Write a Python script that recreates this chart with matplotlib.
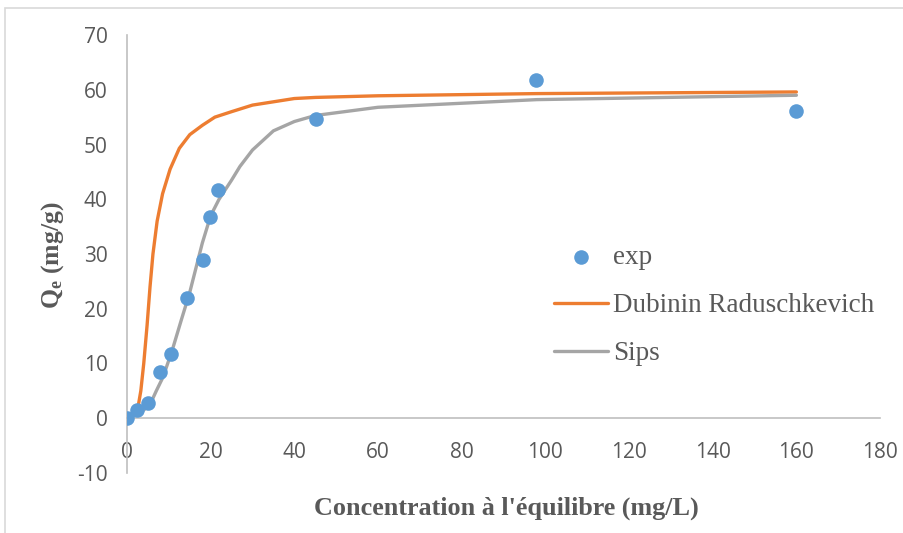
import matplotlib
matplotlib.use("Agg")
import matplotlib.pyplot as plt
from matplotlib.patches import Rectangle

# exp points
exp_x = [0, 2.4, 5.0, 7.9, 10.5, 14.3, 18.2, 19.8, 21.7, 45.2, 97.8, 160]
exp_y = [0, 1.5, 2.8, 8.4, 11.7, 21.9, 28.9, 36.7, 41.7, 54.7, 61.8, 56.1]

# Dubinin Raduschkevich model
dr_x = [2.4, 3.3, 4.0, 4.8, 5.5, 6.2, 7.2, 8.5, 10.3, 12.5, 15, 18, 21, 25, 30, 40, 45, 60, 98, 160]
dr_y = [1.0, 5.0, 10.0, 17.0, 24.0, 30.0, 36.0, 41.0, 45.5, 49.3, 51.8, 53.5, 55.0, 56.0, 57.2, 58.4, 58.6, 58.9, 59.3, 59.6]

# Sips model
sips_x = [0.3, 2, 4, 5.5, 7, 8.6, 10.8, 13, 15, 18, 20, 22, 25, 27, 30, 35, 40, 45, 60, 98, 160]
sips_y = [0.0, 0.5, 1.5, 2.5, 5.0, 7.5, 12.4, 18.0, 23.0, 32.0, 37.0, 40.0, 43.5, 46.0, 49.0, 52.5, 54.2, 55.3, 56.8, 58.2, 59.0]

xticks = list(range(0, 181, 20))
yticks = list(range(-10, 71, 10))

plt.rcParams["mathtext.fontset"] = "custom"
plt.rcParams["mathtext.rm"] = "Liberation Serif:bold"
plt.rcParams["mathtext.it"] = "Liberation Serif:bold"
plt.rcParams["axes.unicode_minus"] = False

grey_txt = "#595959"

fig = plt.figure(figsize=(9.04, 5.33), dpi=100)
ax = fig.add_axes([0.1405, 0.1126, 0.833, 0.8217])

ax.plot(dr_x, dr_y, color="#ED7D31", lw=2.4, label="Dubinin Raduschkevich", zorder=2, solid_capstyle="round")
ax.plot(sips_x, sips_y, color="#A5A5A5", lw=2.4, label="Sips", zorder=2, solid_capstyle="round")
ax.scatter(exp_x, exp_y, s=110, color="#5B9BD5", label="exp", zorder=3, linewidths=0)

ax.set_xlim(0, 180)
ax.set_ylim(-10, 70)
ax.set_xticks(xticks)
ax.set_yticks(yticks)

for s in ["top", "right"]:
    ax.spines[s].set_visible(False)
ax.spines["bottom"].set_position(("data", 0))
ax.spines["bottom"].set_color("#BFBFBF")
ax.spines["left"].set_color("#BFBFBF")
ax.spines["bottom"].set_linewidth(1.2)
ax.spines["left"].set_linewidth(1.2)
ax.tick_params(length=0, labelsize=15, labelcolor=grey_txt)
ax.tick_params(axis="x", pad=17)
ax.tick_params(axis="y", pad=14)
for lab in ax.get_xticklabels() + ax.get_yticklabels():
    lab.set_family("Open Sans")

fig.text(0.0586, 0.5216, "Q$_e$ (mg/g)", rotation=90, ha="center", va="center",
         family="Liberation Serif", fontsize=18.5, fontweight="bold", color=grey_txt)
fig.text(0.5597, 0.047, "Concentration à l'équilibre (mg/L)", ha="center", va="center",
         family="Liberation Serif", fontsize=18.8, fontweight="bold", color=grey_txt)

h, l = ax.get_legend_handles_labels()
order = [2, 0, 1]
ax.legend([h[i] for i in order], [l[i] for i in order], loc="upper left",
          bbox_to_anchor=(0.5854, 0.5855), bbox_transform=fig.transFigure, frameon=False,
          prop={"family": "Liberation Serif", "size": 19.5}, labelcolor=grey_txt,
          handlelength=2.0, handletextpad=0.2, labelspacing=0.85, borderpad=0.4)

fig.patches.append(Rectangle((0.006, -0.1), 1.1, 1.085, transform=fig.transFigure,
                             fill=False, edgecolor="#D9D9D9", lw=1.2))

fig.savefig("out.png", dpi=100)
